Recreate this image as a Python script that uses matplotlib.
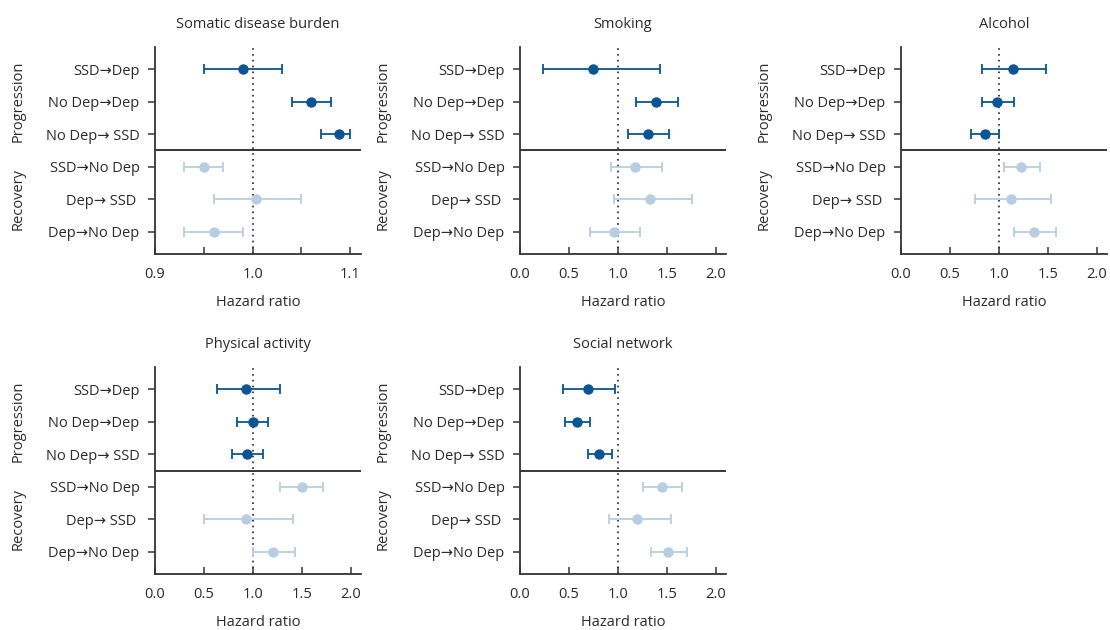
import matplotlib
matplotlib.use("Agg")
import matplotlib.pyplot as plt
import matplotlib.transforms as mtransforms

plt.rcParams['font.family'] = ['Open Sans', 'DejaVu Sans']

# row labels, top to bottom
labels = ["SSD\u2192Dep", "No Dep\u2192Dep", "No Dep\u2192 SSD",
          "SSD\u2192No Dep", "Dep\u2192 SSD ", "Dep\u2192No Dep"]

titles = ["Somatic disease burden", "Smoking", "Alcohol",
          "Physical activity", "Social network"]

# hazard ratio, lower CI, upper CI per panel (same row order as labels)
somatic_hr = [0.99, 1.06, 1.088, 0.95, 1.003, 0.96]
somatic_lo = [0.95, 1.04, 1.07, 0.93, 0.96, 0.93]
somatic_hi = [1.03, 1.08, 1.10, 0.97, 1.05, 0.99]

smoking_hr = [0.75, 1.39, 1.31, 1.18, 1.33, 0.96]
smoking_lo = [0.24, 1.19, 1.105, 0.93, 0.96, 0.715]
smoking_hi = [1.43, 1.61, 1.525, 1.45, 1.76, 1.23]

alcohol_hr = [1.14, 0.985, 0.86, 1.23, 1.12, 1.36]
alcohol_lo = [0.83, 0.83, 0.72, 1.05, 0.76, 1.15]
alcohol_hi = [1.48, 1.15, 1.00, 1.42, 1.53, 1.58]

physical_hr = [0.93, 1.00, 0.94, 1.50, 0.93, 1.205]
physical_lo = [0.63, 0.835, 0.785, 1.28, 0.50, 1.00]
physical_hi = [1.28, 1.155, 1.10, 1.72, 1.41, 1.43]

social_hr = [0.69, 0.585, 0.81, 1.45, 1.20, 1.515]
social_lo = [0.435, 0.46, 0.69, 1.255, 0.91, 1.34]
social_hi = [0.975, 0.72, 0.935, 1.66, 1.54, 1.71]

panels = [(somatic_hr, somatic_lo, somatic_hi),
          (smoking_hr, smoking_lo, smoking_hi),
          (alcohol_hr, alcohol_lo, alcohol_hi),
          (physical_hr, physical_lo, physical_hi),
          (social_hr, social_lo, social_hi)]

dark = "#0b5592"
light = "#b7cee0"
spine_c = "#333333"
txt = "#2a2a2a"

fig = plt.figure(figsize=(11.1, 6.3), dpi=100)
W, H = 1110, 630
boxes = [(155, 47), (520, 47), (901, 47), (155, 367), (520, 367)]
aw, ah = 206, 207

for i, (left, top) in enumerate(boxes):
    ax = fig.add_axes([left / W, 1 - (top + ah) / H, aw / W, ah / H])
    hr, lo, hi = panels[i]
    for r in range(6):
        c = dark if r < 3 else light
        ax.errorbar(hr[r], r, xerr=[[hr[r] - lo[r]], [hi[r] - hr[r]]],
                    fmt="o", color=c, ecolor=c, markersize=6.5, elinewidth=1.3,
                    capsize=3.5, capthick=1.3)
    ax.axvline(1.0, color="#222222", linestyle=(0, (1, 2.5)), linewidth=1.2, zorder=0)
    ax.axhline(2.5, color="black", linewidth=1.1)
    ax.set_ylim(5.68, -0.68)
    ax.set_yticks(range(6))
    ax.set_yticklabels(labels, fontsize=10.5, color=txt)
    if i == 0:
        ax.set_xlim(0.9, 1.111)
        ax.set_xticks([0.9, 0.95, 1.0, 1.05, 1.1])
        ax.set_xticklabels(["0.9", "", "1.0", "", "1.1"])
    else:
        ax.set_xlim(0, 2.105)
        ax.set_xticks([0, 0.5, 1.0, 1.5, 2.0])
        ax.set_xticklabels(["0.0", "0.5", "1.0", "1.5", "2.0"])
    ax.tick_params(axis="x", direction="in", length=5, width=1.1, color=spine_c,
                   labelsize=10.5, labelcolor=txt, pad=9)
    ax.tick_params(axis="y", direction="out", length=5, width=1.1, color=spine_c, pad=6)
    for s in ["top", "right"]:
        ax.spines[s].set_visible(False)
    for s in ["left", "bottom"]:
        ax.spines[s].set_color(spine_c)
        ax.spines[s].set_linewidth(1.3)
    ax.set_title(titles[i], fontsize=10.5, color=txt, pad=14)
    ax.set_xlabel("Hazard ratio", fontsize=10.5, color=txt, labelpad=10)
    trans = mtransforms.blended_transform_factory(ax.transAxes, ax.transData)
    ax.text(-0.665, 1.0, "Progression", rotation=90, ha="center", va="center",
            fontsize=10.5, color=txt, transform=trans)
    ax.text(-0.665, 4.0, "Recovery", rotation=90, ha="center", va="center",
            fontsize=10.5, color=txt, transform=trans)

fig.savefig("out.png", dpi=100)
